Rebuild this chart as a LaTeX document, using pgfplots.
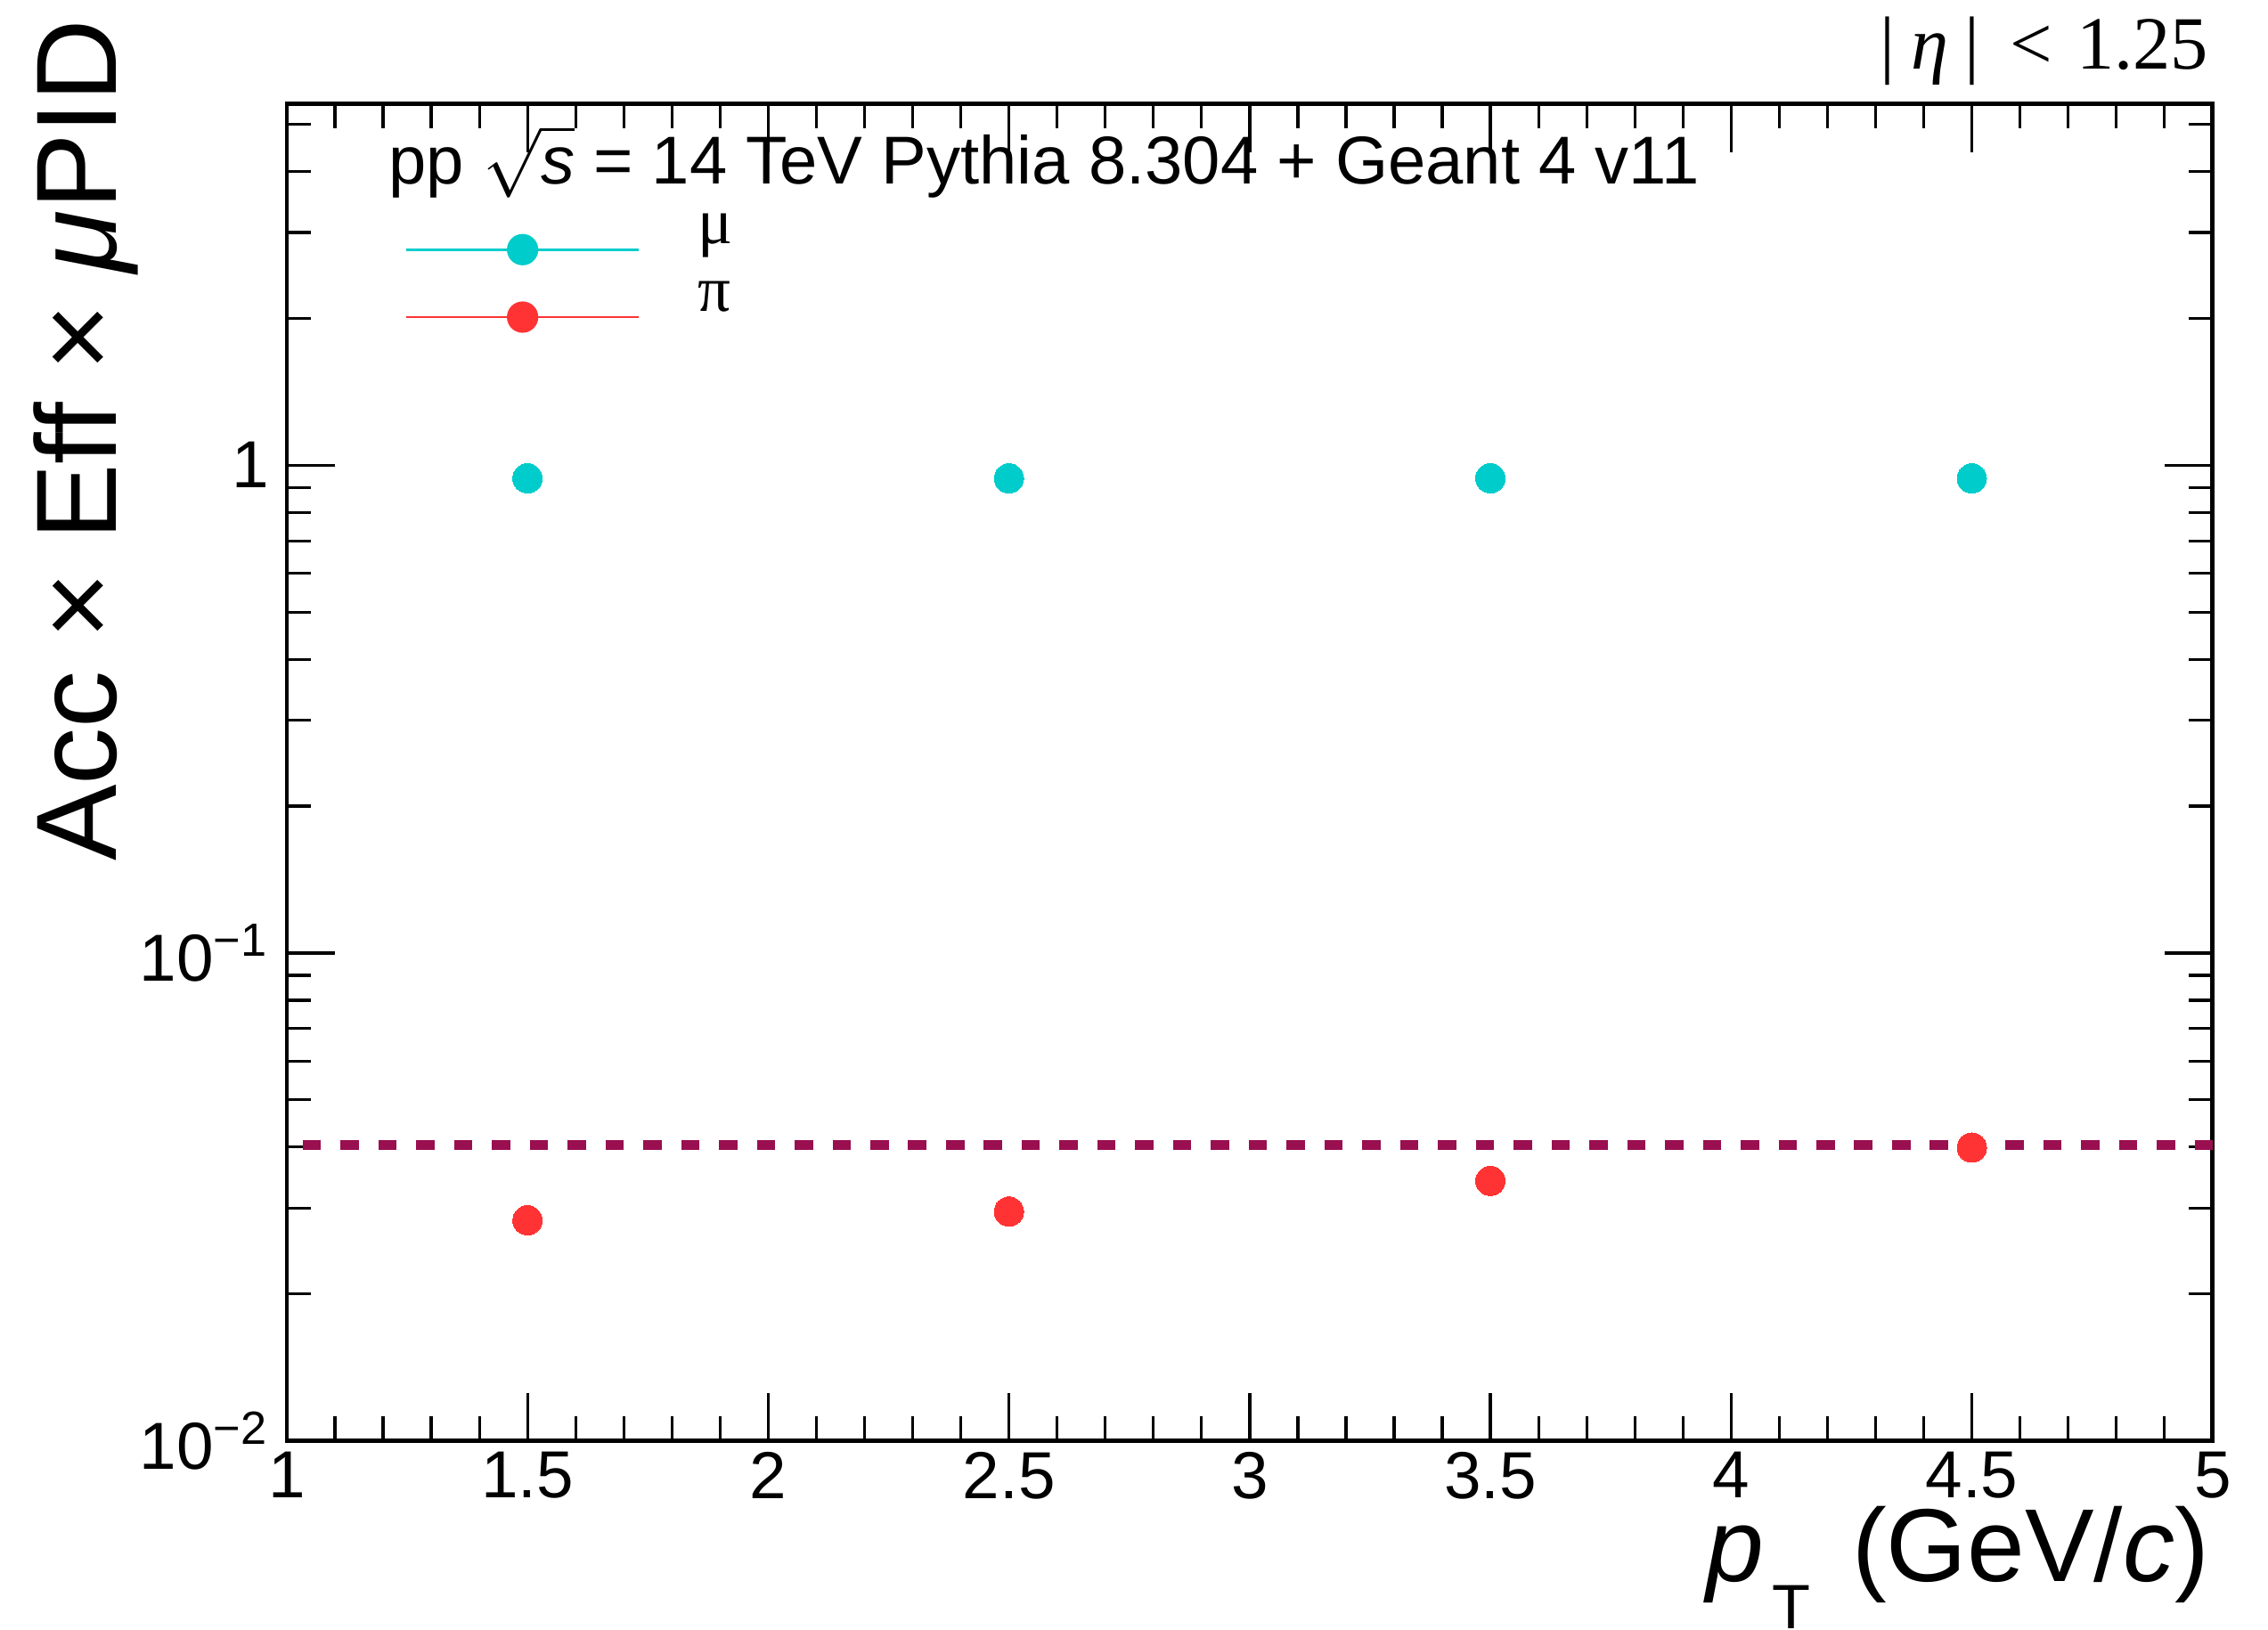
\documentclass[border=0pt]{standalone}
\usepackage{pgfplots}
\pgfplotsset{compat=1.18}
\usepackage{fontspec}
\setmainfont{Liberation Sans}
\newfontfamily\serif{Liberation Serif}
\definecolor{mucol}{RGB}{0,204,204}
\definecolor{picol}{RGB}{255,51,51}
\definecolor{linecol}{RGB}{153,15,80}
\begin{document}
\begin{tikzpicture}
\begin{axis}[
  scale only axis,
  width=399.5pt, height=277.3pt,
  xmin=1, xmax=5,
  ymode=log, ymin=0.01, ymax=5.5,
  xtick={1,1.5,2,2.5,3,3.5,4,4.5,5},
  xticklabels={1,1.5,2,2.5,3,3.5,4,4.5,5},
  minor x tick num=4,
  ytick={0.01,0.1,1},
  yticklabels={10\textsuperscript{−2},10\textsuperscript{−1},1},
  minor ytick={0.02,0.03,0.04,0.05,0.06,0.07,0.08,0.09,0.2,0.3,0.4,0.5,0.6,0.7,0.8,0.9,2,3,4,5},
  tick align=inside,
  major tick length=10pt,
  minor tick length=5pt,
  tick style={black, line width=0.6pt},
  axis line style={line width=0.9pt},
  ticklabel style={font=\fontsize{13.8}{16}\selectfont},
  xticklabel style={inner sep=0pt, yshift=-2.2pt},
  yticklabel style={inner sep=0pt, xshift=-3.5pt},
  legend style={at={(axis description cs:0.0613,0.929)}, anchor=north west,
    draw=none, fill=none, inner sep=0pt, outer sep=0pt, row sep=0pt, column sep=9.9pt,
    font=\serif\fontsize{13.5}{14}\selectfont,
    cells={anchor=base west, inner sep=0pt, text height=8.5pt, text depth=3.6pt}},
]
\addplot[only marks, mark=*, mark size=3.05pt, color=mucol, mark options={line width=0pt, fill=mucol}, forget plot]
  coordinates {(1.5,0.94) (2.5,0.94) (3.5,0.94) (4.5,0.94)};
\addplot[only marks, mark=*, mark size=3.05pt, color=picol, mark options={line width=0pt, fill=picol}, forget plot]
  coordinates {(1.5,0.0283) (2.5,0.0295) (3.5,0.0341) (4.5,0.0399)};
\addplot[linecol, line width=2pt, dash pattern=on 3.8pt off 4.05pt, dash phase=4.55pt, forget plot]
  coordinates {(1,0.0404) (5,0.0404)};
\addlegendimage{legend image code/.code={\draw[mucol, line width=0.55pt] (0pt,0pt) -- (48.3pt,0pt); \fill[mucol] (24.15pt,0pt) circle (3.05pt);}}
\addlegendentry{\raisebox{1.2pt}{μ}}
\addlegendimage{legend image code/.code={\draw[picol, line width=0.55pt] (0pt,0pt) -- (48.3pt,0pt); \fill[picol] (24.15pt,0pt) circle (3.05pt);}}
\addlegendentry{\raisebox{1.2pt}{π}}
\end{axis}
\node[rotate=90, anchor=base east, font=\fontsize{23.7}{24}\selectfont, inner sep=0pt] at (-35.3pt,295pt) {Acc × Eff × \textit{μ}PID};
\node[anchor=base east, font=\fontsize{21.5}{22}\selectfont, inner sep=0pt] at (399pt,-29.25pt) {\textit{p}\kern0.08em\raisebox{-0.45em}{\fontsize{13}{13}\selectfont T}\hspace{0.4em}(GeV/\textit{c})};
\node[anchor=base east, font=\serif\fontsize{15.6}{16}\selectfont, inner sep=0pt] at (398.8pt,284.5pt) {|\hspace{0.22em}\textit{η}\hspace{0.22em}|\hspace{0.4em}<\hspace{0.32em}1.25};
\node[anchor=base west, font=\fontsize{14.05}{15}\selectfont, inner sep=0pt] at (21pt,260.8pt) {pp $\sqrt{\mbox{\textit{s}}}$ = 14 TeV Pythia 8.304 + Geant 4 v11};
\pgfresetboundingbox
\useasboundingbox (-59.5pt,-39.2pt) rectangle (411pt,298.9pt);
\end{tikzpicture}
\end{document}
